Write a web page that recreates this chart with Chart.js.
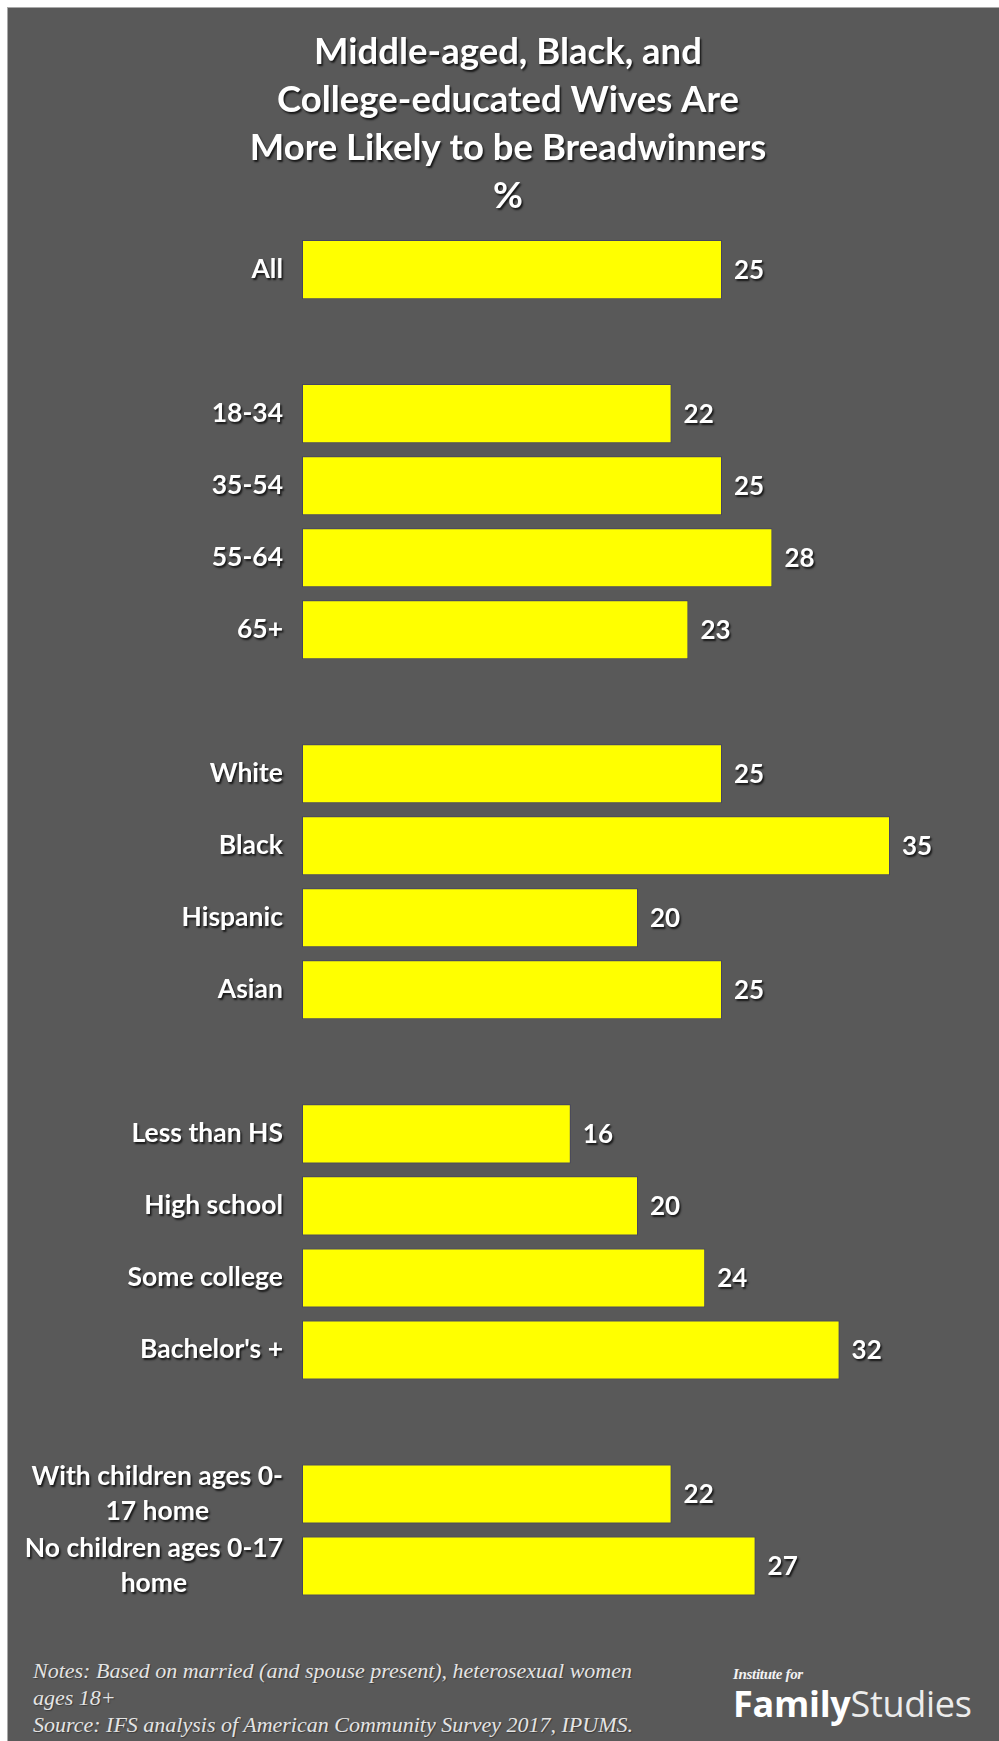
<!DOCTYPE html>
<html>
<head>
<meta charset="utf-8">
<title>Wives as breadwinners</title>
<script src="https://cdn.jsdelivr.net/npm/chart.js@4.4.1/dist/chart.umd.min.js"></script>
<style>
  html, body { margin: 0; padding: 0; background: #ffffff; }
  body { width: 999px; height: 1741px; position: relative; overflow: hidden; }
  #panel {
    position: absolute; left: 7px; top: 7px; width: 992px; height: 1734px;
    background: #595959; box-sizing: border-box;
    border-left: 1px solid #a9a9a9; border-top: 1px solid #a9a9a9;
  }
  #chartBox { position: absolute; left: 0; top: 0; width: 991px; height: 1620px; }
  #notes {
    position: absolute; left: 25px; top: 1649px;
    font-family: "Liberation Serif", "DejaVu Serif", serif; font-style: italic;
    font-size: 22px; line-height: 27px; color: #e4e4e4;
    text-shadow: 1px 1px 1px rgba(0,0,0,0.35);
    white-space: nowrap;
  }
  #logo { position: absolute; left: 725px; top: 1658px; color: #f2f2f2; }
  #logo .inst {
    font-family: "Liberation Serif", serif; font-style: italic; font-weight: bold;
    font-size: 15px; line-height: 17px; letter-spacing: -0.3px;
  }
  #logo .fs {
    font-family: "Open Sans", "Noto Sans", sans-serif; font-size: 36px; line-height: 42px;
    letter-spacing: -0.3px; white-space: nowrap;
  }
  #logo .fs b { font-weight: 700; color: #ffffff; }
  #logo .fs span { font-weight: 400; color: #ececec; }
</style>
</head>
<body>
<div id="panel">
  <div id="chartBox"><canvas id="chart" width="991" height="1620"></canvas></div>
  <div id="notes">Notes: Based on married (and spouse present), heterosexual women<br>ages 18+<br>Source: IFS analysis of American Community Survey 2017, IPUMS.</div>
  <div id="logo"><div class="inst">Institute for</div><div class="fs"><b>Family</b><span>Studies</span></div></div>
</div>
<script>
// Share of wives who out-earn their husbands, by group (%)
const titleLines = ['Middle-aged, Black, and', 'College-educated Wives Are', 'More Likely to be Breadwinners', '%'];

const allLabels = ['All'];
const allValues = [25];

const ageLabels = ['18-34', '35-54', '55-64', '65+'];
const ageValues = [22, 25, 28, 23];

const raceLabels = ['White', 'Black', 'Hispanic', 'Asian'];
const raceValues = [25, 35, 20, 25];

const eduLabels = ['Less than HS', 'High school', 'Some college', "Bachelor's +"];
const eduValues = [16, 20, 24, 32];

const kidsLabels = [['With children ages 0-', '17 home'], ['No children ages 0-17', 'home']];
const kidsValues = [22, 27];

// Groups are separated by an empty row on the category axis
const groups = [
  [allLabels, allValues],
  [ageLabels, ageValues],
  [raceLabels, raceValues],
  [eduLabels, eduValues],
  [kidsLabels, kidsValues]
];
const categories = [];
const values = [];
groups.forEach(([labels, vals], g) => {
  if (g > 0) { categories.push(''); values.push(null); }
  labels.forEach((l, i) => { categories.push(l); values.push(vals[i]); });
});

const FONT = 'Lato, "Open Sans", sans-serif';

function setShadow(ctx) {
  ctx.shadowColor = 'rgba(0,0,0,0.75)';
  ctx.shadowOffsetX = 1.5;
  ctx.shadowOffsetY = 2;
  ctx.shadowBlur = 2;
}

// Centered multi-line heading above the plot
const heading = {
  id: 'heading',
  afterDraw(chart) {
    const ctx = chart.ctx;
    ctx.save();
    setShadow(ctx);
    ctx.fillStyle = '#ffffff';
    ctx.font = 'bold 36.5px ' + FONT;
    ctx.textAlign = 'center';
    ctx.textBaseline = 'middle';
    titleLines.forEach((line, k) => ctx.fillText(line, 500, 44 + k * 48));
    ctx.restore();
  }
};

// Category names to the left of the bars and values to the right of them
const barLabels = {
  id: 'barLabels',
  afterDatasetsDraw(chart) {
    const ctx = chart.ctx;
    const x = chart.scales.x, y = chart.scales.y;
    const meta = chart.getDatasetMeta(0);
    ctx.save();
    setShadow(ctx);
    ctx.fillStyle = '#ffffff';
    ctx.textBaseline = 'middle';
    ctx.font = 'bold 26.5px ' + FONT;
    const right = chart.chartArea.left - 19;
    categories.forEach((lab, i) => {
      if (!lab || lab.length === 0) return;
      const cy = y.getPixelForValue(i);
      if (Array.isArray(lab)) {
        const widest = Math.max(...lab.map(s => ctx.measureText(s).width));
        const cx = right - widest / 2;
        const lh = 35;
        ctx.textAlign = 'center';
        lab.forEach((s, k) => ctx.fillText(s, cx, cy + (k - (lab.length - 1) / 2) * lh));
      } else {
        ctx.textAlign = 'right';
        ctx.fillText(lab, right, cy);
      }
    });
    ctx.font = 'bold 26px ' + FONT;
    ctx.textAlign = 'left';
    values.forEach((v, i) => {
      if (v === null) return;
      const bar = meta.data[i];
      ctx.fillText(String(v), x.getPixelForValue(v) + 12, bar.y + 1);
    });
    ctx.restore();
  }
};

function build() {
  new Chart(document.getElementById('chart'), {
    type: 'bar',
    data: {
      labels: categories,
      datasets: [{
        data: values,
        backgroundColor: '#ffff00',
        borderColor: '#45455e',
        borderWidth: 1,
        borderSkipped: false,
        barPercentage: 0.82,
        categoryPercentage: 1
      }]
    },
    options: {
      indexAxis: 'y',
      responsive: false,
      animation: false,
      events: [],
      layout: { padding: { left: 9, right: 25, top: 225.6, bottom: 26 } },
      plugins: {
        legend: { display: false },
        tooltip: { enabled: false },
        title: { display: false }
      },
      scales: {
        x: { display: false, min: 0, max: 40 },
        y: {
          display: true,
          ticks: { display: false },
          grid: { display: false },
          border: { display: false },
          afterFit(scale) { scale.width = 285; }
        }
      }
    },
    plugins: [heading, barLabels]
  });
}

Promise.all([
  document.fonts.load('bold 36px Lato'),
  document.fonts.load('bold 26px Lato')
]).then(build, build);
</script>
</body>
</html>
